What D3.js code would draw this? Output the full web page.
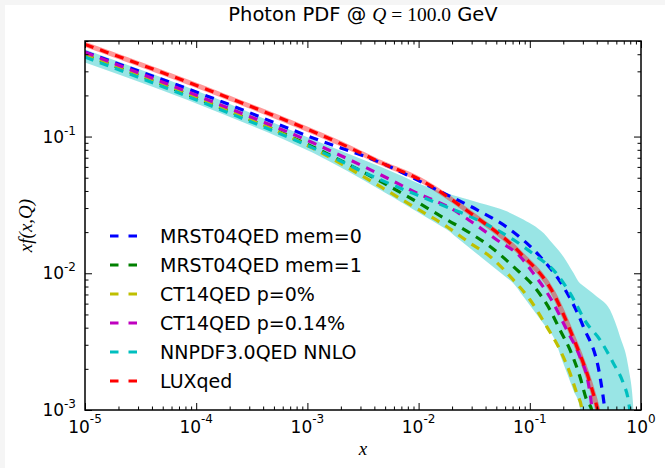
<!DOCTYPE html>
<html>
<head>
<meta charset="utf-8">
<script src="https://cdn.jsdelivr.net/npm/d3@7"></script>
<style>
body { margin: 0; background: #f5f5f5; }
svg { display: block; }
</style>
</head>
<body>
<div id="chart"></div>
<script>
// chart data
var xMajor = [1e-5, 1e-4, 1e-3, 1e-2, 1e-1, 1];
var xMajorExp = ["-5", "-4", "-3", "-2", "-1", "0"];
var yMajor = [1e-3, 1e-2, 1e-1];
var yMajorExp = ["-3", "-2", "-1"];

var seriesNames = ["MRST04QED mem=0", "MRST04QED mem=1", "CT14QED p=0%",
                   "CT14QED p=0.14%", "NNPDF3.0QED NNLO", "LUXqed"];
var seriesColors = ["#0000ff", "#008000", "#bfbf00", "#bf00bf", "#00bfbf", "#ff0000"];

var mrstMem0 = [[1e-5,0.415],[1.64e-4,0.182],[0.00112,0.0977],[0.00499,0.0624],[0.0156,0.0397],
  [0.0333,0.0292],[0.0664,0.0209],[0.1236,0.01327],[0.2,0.0080],[0.303,0.00407],
  [0.428,0.00175],[0.465,0.00112],[0.484,0.00085]];
var mrstMem1 = [[1e-5,0.395],[1.64e-4,0.163],[0.00112,0.084],[0.00482,0.0458],[0.00895,0.0345],
  [0.0179,0.0247],[0.029,0.0197],[0.0439,0.0157],[0.0711,0.0112],[0.1153,0.00757],[0.152,0.0054],
  [0.187,0.00385],[0.230,0.00275],[0.2825,0.00175],[0.325,0.00118],[0.3606,0.001],[0.37,0.00085]];
var ct14p0 = [[1e-5,0.40],[1.64e-4,0.165],[0.00112,0.082],[0.0045,0.0432],[0.00895,0.0308],
  [0.0179,0.022],[0.029,0.01663],[0.0439,0.01327],[0.0711,0.00895],[0.1005,0.0064],[0.142,0.00407],
  [0.187,0.00275],[0.230,0.00186],[0.264,0.00133],[0.293,0.00103],[0.30,0.00085]];
var ct14p014 = [[1e-5,0.413],[1.64e-4,0.171],[0.00112,0.090],[0.0045,0.0528],[0.0096,0.0387],
  [0.0205,0.0292],[0.031,0.0233],[0.0503,0.0176],[0.0817,0.01327],[0.1077,0.01],[0.1626,0.00606],
  [0.215,0.00385],[0.2825,0.00245],[0.336,0.00157],[0.3606,0.00106],[0.37,0.00085]];
var nnpdf = [[1e-5,0.382],[1.64e-4,0.158],[0.00112,0.0826],[0.0045,0.0484],[0.01456,0.0327],
  [0.0333,0.0247],[0.0711,0.0176],[0.1153,0.01327],[0.1626,0.0106],[0.230,0.00716],[0.325,0.00431],
  [0.428,0.00326],[0.564,0.0022],[0.693,0.00157],[0.769,0.00118],[0.796,0.00097],[0.81,0.00085]];
var luxqed = [[1e-5,0.472],[1.64e-4,0.203],[0.00242,0.0826],[0.0045,0.0649],[0.0103,0.0484],
  [0.029,0.0277],[0.0817,0.0141],[0.162,0.0072],[0.244,0.00343],[0.348,0.00158],[0.402,0.00105],
  [0.428,0.00085]];

// NNPDF uncertainty band
var nnpdfUpper = [[1e-5,0.434],[1.64e-4,0.185],[0.00112,0.095],[0.0045,0.0603],[0.0156,0.0397],
  [0.022,0.0366],[0.0356,0.0327],[0.062,0.0284],[0.0875,0.0247],[0.142,0.0186],[0.2,0.01327],
  [0.2825,0.00847],[0.40,0.00676],[0.526,0.0054],[0.647,0.00345],[0.769,0.00207],[0.853,0.00103],
  [0.865,0.00085]];
var nnpdfLower = [[1e-5,0.348],[1.64e-4,0.149],[0.00112,0.076],[0.0045,0.0409],[0.0179,0.0209],
  [0.0711,0.00847],[0.1626,0.00344],[0.246,0.0014],[0.2825,0.00103],[0.29,0.00085]];

var seriesData = [mrstMem0, mrstMem1, ct14p0, ct14p014, nnpdf, luxqed];

var W = 665, H = 468;
var mLeft = 85, mRight = 641, mTop = 41, mBottom = 410;

var svg = d3.select("#chart").append("svg")
    .attr("width", W)
    .attr("height", H);

// white figure area
svg.append("rect").attr("x", 5).attr("y", 5).attr("width", W - 5).attr("height", H - 5)
    .attr("fill", "#ffffff");

var xScale = d3.scaleLog().domain([1e-5, 1]).range([mLeft, mRight]);
var yScale = d3.scaleLog().domain([1e-3, 0.5]).range([mBottom, mTop]);

svg.append("clipPath").attr("id", "plotclip")
  .append("rect").attr("x", mLeft).attr("y", mTop)
    .attr("width", mRight - mLeft).attr("height", mBottom - mTop);

var plot = svg.append("g").attr("clip-path", "url(#plotclip)");

// band
var area = d3.area()
    .x(function(d) { return xScale(d[0]); })
    .y0(function(d) { return yScale(d[1]); })
    .y1(function(d) { return yScale(d[2]); })
    .curve(d3.curveMonotoneX);

// put upper and lower edges on one x grid (log interpolation between read points)
function logInterp(arr, x) {
    var lx = Math.log10(x);
    for (var i = 0; i < arr.length - 1; i++) {
        var a = Math.log10(arr[i][0]), b = Math.log10(arr[i+1][0]);
        if (lx >= a && lx <= b) {
            var t = (lx - a) / (b - a);
            return Math.pow(10, Math.log10(arr[i][1]) * (1 - t) + Math.log10(arr[i+1][1]) * t);
        }
    }
    return 0.0005;
}
var bandX = nnpdfUpper.map(function(d) { return d[0]; })
    .concat(nnpdfLower.map(function(d) { return d[0]; }))
    .sort(function(a, b) { return a - b; });
var band = bandX.map(function(x) {
    return [x, logInterp(nnpdfLower, x), logInterp(nnpdfUpper, x)];
});

plot.append("path")
    .datum(band)
    .attr("d", area)
    .attr("fill", "#00bfbf")
    .attr("fill-opacity", 0.4);

var line = d3.line()
    .x(function(d) { return xScale(d[0]); })
    .y(function(d) { return yScale(d[1]); })
    .curve(d3.curveMonotoneX);

// LUXqed light band
plot.append("path")
    .datum(luxqed)
    .attr("d", line)
    .attr("fill", "none")
    .attr("stroke", "#ff0000")
    .attr("stroke-opacity", 0.4)
    .attr("stroke-width", 5);

seriesData.forEach(function(s, i) {
    plot.append("path")
        .datum(s)
        .attr("d", line)
        .attr("fill", "none")
        .attr("stroke", seriesColors[i])
        .attr("stroke-width", 3.2)
        .attr("stroke-dasharray", "9,7");
});

// axes, ticks inside on all four sides
function minorTicks(domain) {
    var out = [];
    var lo = Math.floor(Math.log10(domain[0])), hi = Math.ceil(Math.log10(domain[1]));
    for (var e = lo; e < hi; e++) {
        for (var k = 2; k <= 9; k++) {
            var v = k * Math.pow(10, e);
            if (v >= domain[0] && v <= domain[1]) out.push(v);
        }
    }
    return out;
}
var xMinor = minorTicks(xScale.domain());
var yMinor = minorTicks(yScale.domain());

function drawAxis(axis, tx, ty) {
    var g = svg.append("g").attr("transform", "translate(" + tx + "," + ty + ")").call(axis);
    g.select(".domain").remove();
    g.selectAll("line").attr("stroke", "#000").attr("stroke-width", 1);
    g.selectAll("text").remove();
    return g;
}
drawAxis(d3.axisBottom(xScale).tickValues(xMajor).tickSize(-7).tickFormat(""), 0, mBottom);
drawAxis(d3.axisBottom(xScale).tickValues(xMinor).tickSize(-3.5).tickFormat(""), 0, mBottom);
drawAxis(d3.axisTop(xScale).tickValues(xMajor).tickSize(-7).tickFormat(""), 0, mTop);
drawAxis(d3.axisTop(xScale).tickValues(xMinor).tickSize(-3.5).tickFormat(""), 0, mTop);
drawAxis(d3.axisLeft(yScale).tickValues(yMajor).tickSize(-7).tickFormat(""), mLeft, 0);
drawAxis(d3.axisLeft(yScale).tickValues(yMinor).tickSize(-3.5).tickFormat(""), mLeft, 0);
drawAxis(d3.axisRight(yScale).tickValues(yMajor).tickSize(-7).tickFormat(""), mRight, 0);
drawAxis(d3.axisRight(yScale).tickValues(yMinor).tickSize(-3.5).tickFormat(""), mRight, 0);

svg.append("rect")
    .attr("x", mLeft).attr("y", mTop)
    .attr("width", mRight - mLeft).attr("height", mBottom - mTop)
    .attr("fill", "none")
    .attr("stroke", "#000")
    .attr("stroke-width", 1.5);

var sans = "'DejaVu Sans', sans-serif";
var serif = "'Liberation Serif', 'DejaVu Serif', serif";

// tick labels 10^k
xMajor.forEach(function(v, i) {
    var t = svg.append("text")
        .attr("x", xScale(v))
        .attr("y", mBottom + 23)
        .attr("text-anchor", "middle")
        .style("font-family", sans)
        .style("font-size", "17px");
    t.append("tspan").text("10");
    t.append("tspan").attr("dy", -10).style("font-size", "12px").text(xMajorExp[i]);
});
yMajor.forEach(function(v, i) {
    var t = svg.append("text")
        .attr("x", mLeft - 9)
        .attr("y", yScale(v) + 6)
        .attr("text-anchor", "end")
        .style("font-family", sans)
        .style("font-size", "17px");
    t.append("tspan").text("10");
    t.append("tspan").attr("dy", -8).style("font-size", "12px").text(yMajorExp[i]);
});

// title
var title = svg.append("text")
    .attr("x", (mLeft + mRight) / 2)
    .attr("y", 21)
    .attr("text-anchor", "middle")
    .style("font-family", sans)
    .style("font-size", "19.5px");
title.append("tspan").text("Photon PDF @ ");
title.append("tspan").style("font-family", serif).style("font-style", "italic").text("Q");
title.append("tspan").style("font-family", serif).text(" = 100.0");
title.append("tspan").text(" GeV");

// axis labels
svg.append("text")
    .attr("x", (mLeft + mRight) / 2)
    .attr("y", 455)
    .attr("text-anchor", "middle")
    .style("font-family", serif)
    .style("font-style", "italic")
    .style("font-size", "19px")
    .text("x");

svg.append("text")
    .attr("transform", "translate(32," + ((mTop + mBottom) / 2) + ")rotate(-90)")
    .attr("text-anchor", "middle")
    .style("font-family", serif)
    .style("font-style", "italic")
    .style("font-size", "19px")
    .text("xf(x,Q)");

// legend
var legX = 110, legY = 236, legStep = 29;
seriesNames.forEach(function(name, i) {
    var y = legY + i * legStep;
    svg.append("line")
        .attr("x1", legX).attr("x2", legX + 27)
        .attr("y1", y).attr("y2", y)
        .attr("stroke", seriesColors[i])
        .attr("stroke-width", 3.2)
        .attr("stroke-dasharray", "8.5,10");
    svg.append("text")
        .attr("x", legX + 50)
        .attr("y", y + 7)
        .style("font-family", sans)
        .style("font-size", "19px")
        .text(name);
});
</script>
</body>
</html>
